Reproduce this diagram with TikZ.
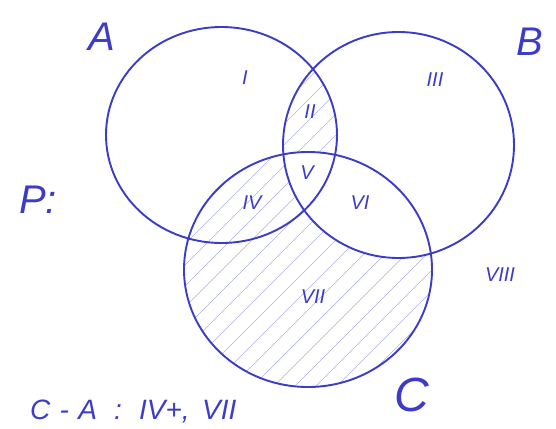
\documentclass[tikz,border=0pt]{standalone}
\usepackage{fontspec}
\setmainfont{Liberation Sans}
\definecolor{pen}{RGB}{60,60,200}
\definecolor{hatchc}{RGB}{178,178,235}
\begin{document}
\begin{tikzpicture}[x=1pt,y=-1pt,
  circ/.style={draw=pen,line width=1.9pt},
  hatch/.style={draw=hatchc,line width=0.6pt},
  lbl/.style={text=pen,font=\itshape\fontsize{40}{40}\selectfont,inner sep=0pt},
  num/.style={text=pen,font=\itshape\fontsize{20}{20}\selectfont,inner sep=0pt},
  formula/.style={text=pen,font=\itshape\fontsize{28}{28}\selectfont,inner sep=0pt,anchor=west}]
\useasboundingbox[fill=white] (0,0) rectangle (556,428);
\def\pathA{(221.5,135) ellipse [x radius=115.5, y radius=108]}
\def\pathB{(398.5,145) ellipse [x radius=115.5, y radius=113]}
\def\pathC{(308,269.5) ellipse [x radius=124, y radius=117.5]}
% hatching: C minus B (IV and VII)
\begin{scope}
  \clip \pathC;
  \foreach \k in {-15,...,25} {\draw[hatch] (\k*21,450) -- ++(500,-500);}
  \fill[white] \pathB;
\end{scope}
% hatching: A and B minus C (II)
\begin{scope}
  \clip \pathA;
  \clip \pathB;
  \foreach \k in {-15,...,25} {\draw[hatch] (\k*21,450) -- ++(500,-500);}
  \fill[white] \pathC;
\end{scope}
% circles
\draw[circ] \pathA;
\draw[circ] \pathB;
\draw[circ] \pathC;
% set labels
\node[lbl] (labA) at (102,37) {A};
\node[lbl] (labB) at (530,42) {B};
\node[lbl,font=\itshape\fontsize{48}{48}\selectfont] (labC) at (412,395) {C};
\node[lbl] (labP) at (38,200) {P:};
% region numerals
\node[num] (r1) at (245,78) {I};
\node[num] (r2) at (310,112) {II};
\node[num] (r3) at (435,80) {III};
\node[num] (r4) at (252,203) {IV};
\node[num] (r5) at (307,173) {V};
\node[num] (r6) at (360,203) {VI};
\node[num] (r7) at (313,297) {VII};
\node[num] (r8) at (500,275) {VIII};
% formula
\node[formula] (ca) at (30,412) {C\,\,-\,\,A\,\, :\,\, IV+,\, VII};
\end{tikzpicture}
\end{document}
